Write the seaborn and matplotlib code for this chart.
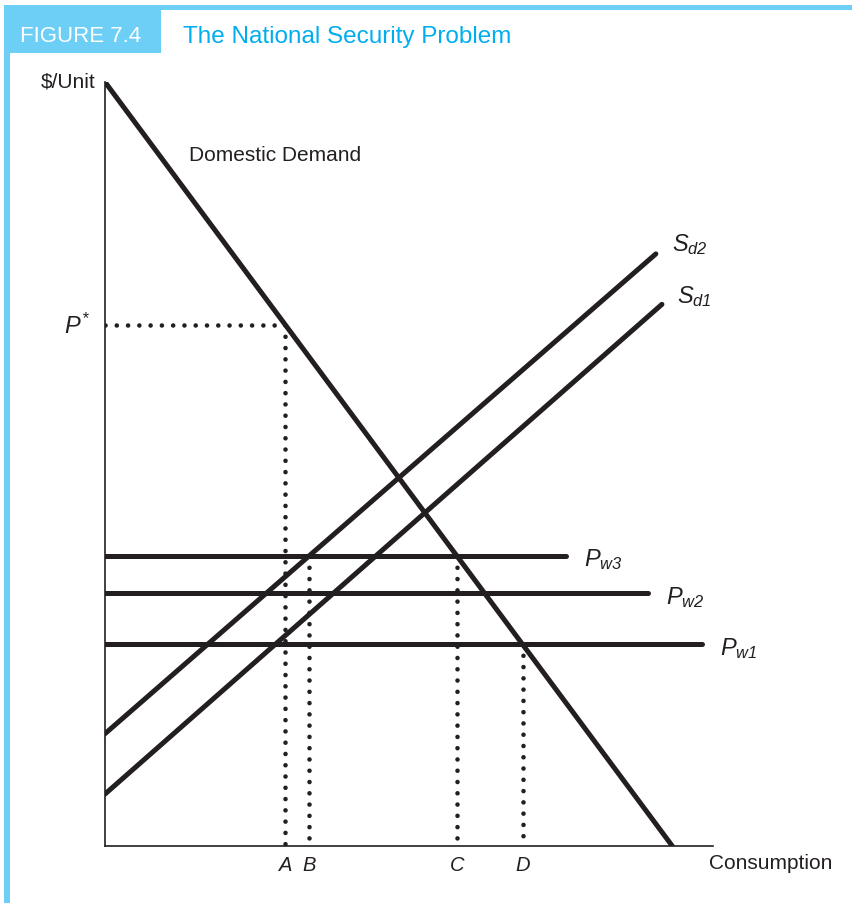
import numpy as np
import pandas as pd
import matplotlib
matplotlib.use('Agg')
import matplotlib.pyplot as plt
from matplotlib.patches import Rectangle
import seaborn as sns

# Curve end points (x = consumption, y = $/unit)
demand_x = [0.0, 93.3]
demand_y = [100.0, 0.0]
sd2_x = [0.0, 90.6]
sd2_y = [14.7, 77.5]
sd1_x = [0.0, 91.6]
sd1_y = [6.8, 70.9]

# World prices and how far their lines run
world_labels = ['w3', 'w2', 'w1']
world_prices = [38.0, 33.1, 26.4]
world_ends = [75.8, 89.3, 98.2]

p_star = 68.2
qty_labels = ['A', 'B', 'C', 'D']

sns.set_theme(style='white')
plt.rcParams['font.family'] = ['Liberation Sans', 'DejaVu Sans']
plt.rcParams['mathtext.fontset'] = 'custom'
plt.rcParams['mathtext.it'] = 'Liberation Sans:italic'
plt.rcParams['mathtext.rm'] = 'Liberation Sans:italic'

ink = '#231f20'
blue = '#6dcff6'
W, H = 852, 904

fig = plt.figure(figsize=(W / 100, H / 100), dpi=100)
ax = fig.add_axes([105 / W, (H - 847) / H, 608 / W, 764 / H])
ax.set_xlim(0, 100)
ax.set_ylim(0, 100)


def line_at(xs, ys, price):
    # x where a straight curve reaches a given price
    return xs[0] + (price - ys[0]) * (xs[1] - xs[0]) / (ys[1] - ys[0])


# demand and the two domestic supply curves
for xs, ys in [(demand_x, demand_y), (sd2_x, sd2_y), (sd1_x, sd1_y)]:
    sns.lineplot(x=xs, y=ys, ax=ax, color=ink, lw=3.6, estimator=None, sort=False)

# world price lines
for p, end in zip(world_prices, world_ends):
    sns.lineplot(x=[0, end], y=[p, p], ax=ax, color=ink, lw=3.6, estimator=None, sort=False)

# quantities A..D from intersections
q_a = line_at(demand_x, demand_y, p_star)
q_b = line_at(sd2_x, sd2_y, world_prices[0])
q_c = line_at(demand_x, demand_y, world_prices[0])
q_d = line_at(demand_x, demand_y, world_prices[2])
qty_x = [q_a, q_b, q_c, q_d]
qty_top = [p_star, world_prices[0], world_prices[0], world_prices[2]]

dots = dict(color=ink, lw=3.3, linestyle=(0, (0.01, 2.45)), dash_capstyle='round')
sns.lineplot(x=[0, q_a], y=[p_star, p_star], ax=ax, estimator=None, sort=False, **dots)
for qx, top in zip(qty_x, qty_top):
    sns.lineplot(x=[qx, qx], y=[top, 0], ax=ax, estimator=None, sort=False, **dots)

for qx, lab in zip(qty_x, qty_labels):
    ax.text(qx, -2.4, lab, ha='center', va='center', fontsize=14.5, style='italic', color=ink)

# axes
sns.despine(ax=ax)
for side in ['left', 'bottom']:
    ax.spines[side].set_color(ink)
    ax.spines[side].set_linewidth(1.2)
ax.set_xticks([])
ax.set_yticks([])
ax.set_xlabel('')
ax.set_ylabel('')

# curve labels
ax.text(13.8, 90.5, 'Domestic Demand', fontsize=15, color=ink, va='center')
ax.text(93.3, 78.8, r'$S_{d2}$', fontsize=17, color=ink, va='center')
ax.text(94.0, 72.0, r'$S_{d1}$', fontsize=17, color=ink, va='center')
for p, end, lab in zip(world_prices, world_ends, world_labels):
    ax.text(end + 3.0, p - 0.4, r'$P_{' + lab + '}$', fontsize=17, color=ink, va='center')
ax.text(-2.4, p_star, r'$P^{*}$', fontsize=17, color=ink, va='center', ha='right')
ax.text(-1.5, 100.1, '$/Unit', fontsize=15, color=ink, va='center', ha='right')
ax.text(99.4, -2.2, 'Consumption', fontsize=15, color=ink, va='center', ha='left')

# frame: top and left blue rules, header box
fig.patches.append(Rectangle((4 / W, (H - 11) / H), (W - 4) / W, 5 / H,
                             transform=fig.transFigure, color=blue, lw=0))
fig.patches.append(Rectangle((4 / W, 0), 6 / W, (H - 6) / H,
                             transform=fig.transFigure, color=blue, lw=0))
fig.patches.append(Rectangle((10 / W, (H - 54) / H), 151 / W, 43 / H,
                             transform=fig.transFigure, color=blue, lw=0))
fig.text(81 / W, (H - 37) / H, 'FIGURE 7.4', color='white', fontsize=16,
         ha='center', va='center')
fig.text(183 / W, (H - 37) / H, 'The National Security Problem', color='#00aeef',
         fontsize=17.5, ha='left', va='center')

fig.savefig('out.png', dpi=100)
